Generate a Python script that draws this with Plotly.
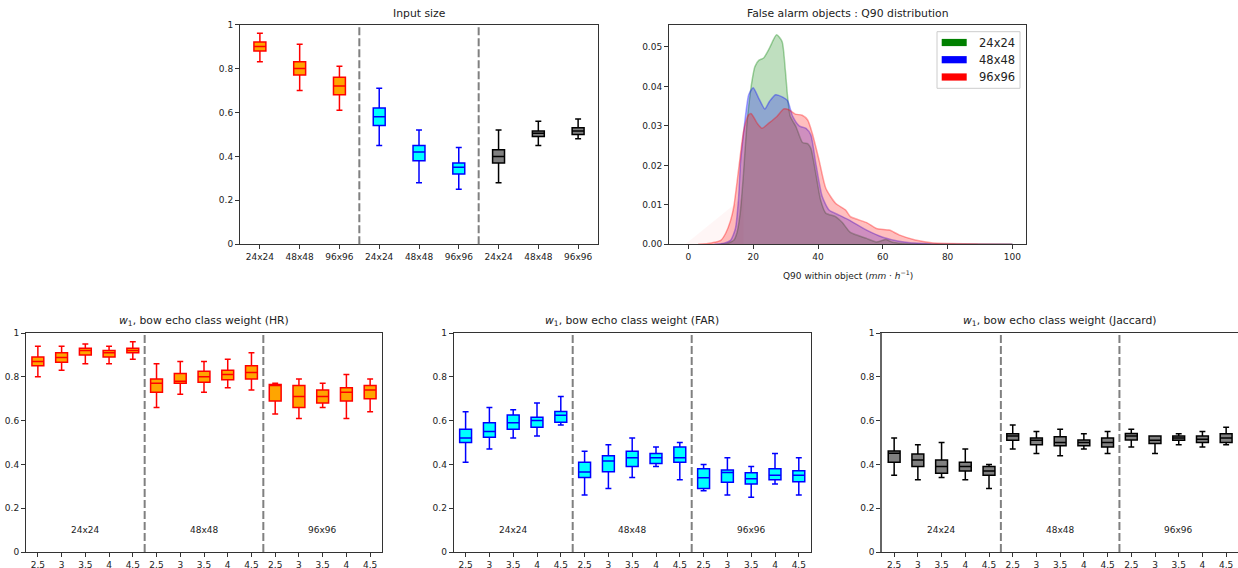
import plotly.graph_objects as go

W, H = 1238, 568
FONT = "DejaVu Sans"

# ---------------- data ----------------
size_labels = ["24x24", "48x48", "96x96"]
metric_names = ["HR", "FAR", "Jaccard"]

# Input size panel: [lower whisker, q1, median, q3, upper whisker]
input_hr = [[0.83, 0.88, 0.90, 0.92, 0.96],
            [0.70, 0.77, 0.80, 0.83, 0.91],
            [0.61, 0.68, 0.72, 0.76, 0.81]]
input_far = [[0.45, 0.54, 0.58, 0.62, 0.71],
             [0.28, 0.38, 0.42, 0.45, 0.52],
             [0.25, 0.32, 0.35, 0.37, 0.44]]
input_jac = [[0.28, 0.37, 0.40, 0.43, 0.52],
             [0.45, 0.49, 0.505, 0.515, 0.56],
             [0.48, 0.50, 0.515, 0.53, 0.57]]

# class weight panels
weight_labels = ["2.5", "3", "3.5", "4", "4.5"]
weight_hr = [[0.80, 0.85, 0.87, 0.89, 0.94], [0.83, 0.866, 0.888, 0.91, 0.94],
             [0.86, 0.90, 0.92, 0.93, 0.95], [0.86, 0.89, 0.91, 0.92, 0.94],
             [0.88, 0.91, 0.92, 0.93, 0.96],
             [0.66, 0.73, 0.77, 0.79, 0.86], [0.72, 0.77, 0.78, 0.815, 0.87],
             [0.73, 0.775, 0.80, 0.825, 0.87], [0.75, 0.786, 0.81, 0.83, 0.88],
             [0.74, 0.79, 0.82, 0.85, 0.91],
             [0.63, 0.69, 0.76, 0.765, 0.77], [0.61, 0.66, 0.71, 0.76, 0.79],
             [0.66, 0.68, 0.71, 0.74, 0.77], [0.61, 0.69, 0.73, 0.75, 0.81],
             [0.64, 0.70, 0.74, 0.76, 0.79]]
weight_far = [[0.41, 0.50, 0.52, 0.56, 0.64], [0.47, 0.524, 0.55, 0.59, 0.66],
              [0.52, 0.56, 0.59, 0.626, 0.65], [0.53, 0.57, 0.60, 0.615, 0.68],
              [0.58, 0.593, 0.625, 0.641, 0.71],
              [0.26, 0.34, 0.365, 0.41, 0.46], [0.29, 0.366, 0.416, 0.44, 0.49],
              [0.34, 0.39, 0.43, 0.46, 0.52], [0.39, 0.404, 0.43, 0.45, 0.48],
              [0.33, 0.41, 0.43, 0.48, 0.50],
              [0.28, 0.29, 0.339, 0.38, 0.40], [0.26, 0.318, 0.363, 0.375, 0.43],
              [0.25, 0.31, 0.334, 0.362, 0.39], [0.31, 0.33, 0.351, 0.38, 0.45],
              [0.26, 0.321, 0.35, 0.371, 0.43]]
weight_jac = [[0.35, 0.41, 0.451, 0.461, 0.52], [0.33, 0.39, 0.42, 0.447, 0.49],
              [0.34, 0.36, 0.39, 0.42, 0.50], [0.33, 0.37, 0.39, 0.41, 0.47],
              [0.29, 0.35, 0.37, 0.39, 0.40],
              [0.47, 0.51, 0.53, 0.54, 0.58], [0.45, 0.49, 0.51, 0.52, 0.55],
              [0.44, 0.485, 0.50, 0.526, 0.56], [0.47, 0.485, 0.50, 0.511, 0.54],
              [0.45, 0.48, 0.50, 0.521, 0.55],
              [0.48, 0.511, 0.53, 0.541, 0.56], [0.45, 0.495, 0.51, 0.53, 0.53],
              [0.49, 0.51, 0.52, 0.53, 0.54], [0.48, 0.50, 0.515, 0.53, 0.55],
              [0.49, 0.50, 0.52, 0.54, 0.57]]

# Q90 density curves
q90_x_24 = [10, 12, 14, 15, 16, 17, 18, 18.6, 19.6, 20.5, 21.7, 23.2, 25, 27.2, 28.9,
            29.9, 30.6, 31.4, 33.2, 35.2, 36.8, 37.8, 39.3, 40.8, 42.4, 45.4, 47.5,
            50, 55, 58, 61, 63, 66, 70, 80, 100]
q90_y_24 = [0, 0.0002, 0.001, 0.003, 0.008, 0.018, 0.030, 0.035, 0.0413, 0.045, 0.0466,
            0.0472, 0.0497, 0.0531, 0.0514, 0.0442, 0.0375, 0.0325, 0.0298, 0.0258,
            0.0255, 0.0243, 0.018, 0.0112, 0.0079, 0.007, 0.0055, 0.003, 0.0015, 0.0006,
            0.0012, 0.0005, 0.0002, 0.0001, 0, 0]
q90_x_48 = [8, 11, 13, 14.5, 15.5, 16.1, 17, 17.6, 18.6, 20, 21.7, 23.6, 25, 26.9, 29.1,
            30.6, 32.2, 34.2, 36.3, 37.8, 39.3, 41.3, 43.4, 46.5, 49.5, 55, 60, 65, 70,
            75, 80, 100]
q90_y_48 = [0, 0.0003, 0.001, 0.004, 0.012, 0.021, 0.028, 0.0324, 0.0379, 0.0397, 0.037,
            0.0343, 0.0362, 0.0379, 0.0373, 0.0364, 0.0324, 0.030, 0.0294, 0.0277, 0.0206,
            0.0121, 0.0087, 0.0074, 0.0062, 0.0036, 0.0018, 0.0008, 0.0003, 0.0001, 0, 0]
q90_x_96 = [3, 6, 8, 10, 11.5, 13, 14, 15.6, 17.1, 18.6, 19.4, 21.2, 22.7, 24.8, 27.3,
            29.4, 31, 33, 35.1, 36.8, 38.2, 40.3, 42.4, 45.4, 48.5, 50, 55, 58, 62, 65,
            70, 75, 80, 90, 100]
q90_y_96 = [0, 0.0002, 0.0005, 0.001, 0.0028, 0.006, 0.0095, 0.0197, 0.029, 0.0328,
            0.0331, 0.0307, 0.0294, 0.0307, 0.0324, 0.0343, 0.0341, 0.033, 0.0327, 0.0315,
            0.0282, 0.0214, 0.0142, 0.0104, 0.0087, 0.007, 0.0055, 0.004, 0.0036, 0.0024,
            0.0011, 0.0004, 0.0002, 0.0001, 0]
q90_faint_x = [-1, 17]
q90_faint_y = [0, 0.012]

# ---------------- styles ----------------
STYLE = {
    "HR": dict(line="red", fill="orange"),
    "FAR": dict(line="blue", fill="cyan"),
    "Jaccard": dict(line="black", fill="gray"),
}


def px2fx(px):
    return px / W


def px2fy(py):
    return 1 - py / H


fig = go.Figure()


def add_boxes(positions, stats, metric, xa, ya, width):
    st = STYLE[metric]
    fig.add_trace(go.Box(
        x=positions,
        lowerfence=[s[0] for s in stats],
        q1=[s[1] for s in stats],
        median=[s[2] for s in stats],
        q3=[s[3] for s in stats],
        upperfence=[s[4] for s in stats],
        width=width, whiskerwidth=0.5, boxpoints=False,
        fillcolor=st["fill"], line=dict(color=st["line"], width=1.5),
        xaxis=xa, yaxis=ya, showlegend=False, hoverinfo="skip",
    ))


# Top-left: input size
for i, (metric, stats) in enumerate(zip(metric_names, [input_hr, input_far, input_jac])):
    add_boxes([3 * i + 1, 3 * i + 2, 3 * i + 3], stats, metric, "x", "y", 0.3)

# Bottom panels: weights
for metric, stats, xa, ya in zip(metric_names, [weight_hr, weight_far, weight_jac],
                                 ["x3", "x4", "x5"], ["y3", "y4", "y5"]):
    add_boxes(list(range(1, 16)), stats, metric, xa, ya, 0.5)

# Density panel
fig.add_trace(go.Scatter(x=q90_faint_x, y=q90_faint_y, fill="tozeroy", mode="lines",
                         line=dict(width=0, color="rgba(255,0,0,0)"),
                         fillcolor="rgba(255,0,0,0.035)", xaxis="x2", yaxis="y2",
                         showlegend=False, hoverinfo="skip"))
for xs, ys, rgb in [(q90_x_24, q90_y_24, "0,128,0"), (q90_x_48, q90_y_48, "0,0,255"),
                    (q90_x_96, q90_y_96, "255,0,0")]:
    fig.add_trace(go.Scatter(
        x=xs, y=ys, mode="lines", fill="tozeroy",
        line=dict(color=f"rgba({rgb},0.35)", width=1.5, shape="spline", smoothing=0.6),
        fillcolor=f"rgba({rgb},0.25)", xaxis="x2", yaxis="y2", showlegend=False,
        hoverinfo="skip"))

# ---------------- axes ----------------
AX = dict(showline=True, linecolor="#333", linewidth=1, mirror=True, ticks="outside",
          ticklen=4, tickwidth=1, tickcolor="#333", showgrid=False, zeroline=False,
          automargin=False, fixedrange=True,
          tickfont=dict(size=9, color="#222", family=FONT))

top_y = [px2fy(244.3), px2fy(24.5)]
bot_y = [px2fy(552), px2fy(333)]
prob_ticks = dict(tickvals=[0, 0.2, 0.4, 0.6, 0.8, 1],
                  ticktext=["0", "0.2", "0.4", "0.6", "0.8", "1"], range=[0, 1])

weight_ticktext = weight_labels * 3

fig.update_layout(
    xaxis=dict(AX, domain=[px2fx(240), px2fx(598)], anchor="y", range=[0.5, 9.5],
               tickvals=list(range(1, 10)), ticktext=size_labels * 3),
    yaxis=dict(AX, domain=top_y, anchor="x", **prob_ticks),
    xaxis2=dict(AX, domain=[px2fx(669), px2fx(1026)], anchor="y2", range=[-6, 104.2],
                tickvals=[0, 20, 40, 60, 80, 100]),
    yaxis2=dict(AX, domain=top_y, anchor="x2", range=[0, 0.0557],
                tickvals=[0, 0.01, 0.02, 0.03, 0.04, 0.05], tickformat=".2f"),
    xaxis3=dict(AX, domain=[px2fx(26), px2fx(382)], anchor="y3", range=[0.5, 15.5],
                tickvals=list(range(1, 16)), ticktext=weight_ticktext),
    yaxis3=dict(AX, domain=bot_y, anchor="x3", **prob_ticks),
    xaxis4=dict(AX, domain=[px2fx(453.7), px2fx(810.7)], anchor="y4", range=[0.5, 15.5],
                tickvals=list(range(1, 16)), ticktext=weight_ticktext),
    yaxis4=dict(AX, domain=bot_y, anchor="x4", **prob_ticks),
    xaxis5=dict(AX, domain=[px2fx(882.3), 1.0], anchor="y5", range=[0.5, 15.5],
                tickvals=list(range(1, 16)), ticktext=weight_ticktext),
    yaxis5=dict(AX, domain=bot_y, anchor="x5", **prob_ticks),
)
fig.update_layout(yaxis5=dict(mirror=False, linecolor="#666", linewidth=2))

# ---------------- dashed separators ----------------
shapes = []
for xa, ya, xs in [("x", "y", [3.5, 6.5]), ("x3", "y3", [5.5, 10.5]),
                   ("x4", "y4", [5.5, 10.5]), ("x5", "y5", [5.5, 10.5])]:
    for xv in xs:
        shapes.append(dict(type="line", xref=xa, yref=f"{ya} domain", x0=xv, x1=xv,
                           y0=0, y1=1, line=dict(color="gray", width=2, dash="8px,3px")))

# legend (manual, matplotlib style)
legend_items = [("24x24", "green", 42.5), ("48x48", "blue", 59.7), ("96x96", "red", 77.0)]
shapes.append(dict(type="rect", xref="paper", yref="paper", x0=px2fx(937), x1=px2fx(1020),
                   y0=px2fy(88.3), y1=px2fy(31.7), line=dict(color="#cccccc", width=1),
                   fillcolor="rgba(255,255,255,0.8)"))
annotations = []
for lab, col, cy in legend_items:
    shapes.append(dict(type="rect", xref="paper", yref="paper", x0=px2fx(941.7),
                       x1=px2fx(966.7), y0=px2fy(cy + 3.6), y1=px2fy(cy - 3.6),
                       line=dict(width=0), fillcolor=col))
    annotations.append(dict(xref="paper", yref="paper", x=px2fx(976.5), y=px2fy(cy),
                            text=lab, showarrow=False, xanchor="left", yanchor="middle",
                            font=dict(size=11.5, color="#222", family=FONT)))

# titles
TF = dict(size=10.8, color="#222", family=FONT)
titles = [
    ("x", "Input size", 13.3),
    ("x2", "False alarm objects : Q90 distribution", 13.7),
    ("x3", "<i>w</i><sub>1</sub>, bow echo class weight (HR)", 321),
    ("x4", "<i>w</i><sub>1</sub>, bow echo class weight (FAR)", 321),
    ("x5", "<i>w</i><sub>1</sub>, bow echo class weight (Jaccard)", 321),
]
for xa, txt, py in titles:
    annotations.append(dict(xref=f"{xa} domain", yref="paper", x=0.5, y=px2fy(py),
                            text=txt, showarrow=False, xanchor="center",
                            yanchor="middle", font=TF))

# section labels in bottom panels
for xa, ya in [("x3", "y3"), ("x4", "y4"), ("x5", "y5")]:
    for k, lab in enumerate(size_labels):
        annotations.append(dict(xref=xa, yref=ya, x=3 + 5 * k, y=0.1, text=lab,
                                showarrow=False, xanchor="center", yanchor="middle",
                                font=dict(size=9, color="#222", family=FONT)))

# density x label
annotations.append(dict(xref="x2 domain", yref="paper", x=0.5, y=px2fy(274.5),
                        text="Q90 within object (<i>mm</i> · <i>h</i><sup>−1</sup>)",
                        showarrow=False, xanchor="center", yanchor="middle",
                        font=dict(size=9, color="#222", family=FONT)))

fig.update_layout(
    width=W, height=H, margin=dict(l=0, r=0, t=0, b=0, autoexpand=False),
    paper_bgcolor="white", plot_bgcolor="white", boxmode="overlay",
    showlegend=False, shapes=shapes, annotations=annotations,
    font=dict(family=FONT, size=9, color="#222"),
)

fig.write_html("out.html", config={"displayModeBar": False},
               post_script="document.body.style.margin='0';"
                           "document.body.style.overflow='hidden';")
